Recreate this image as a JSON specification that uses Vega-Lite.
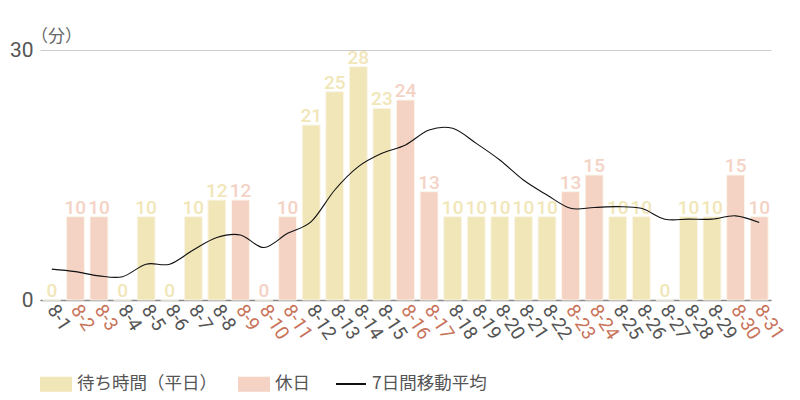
{
  "$schema": "https://vega.github.io/schema/vega-lite/v6.json",
  "width": 731,
  "height": 250,
  "autosize": "none",
  "padding": {"left": 40, "top": 50, "right": 29, "bottom": 100},
  "background": "white",
  "data": {
    "values": [
      {"d": "8-1", "v": 0, "t": "待ち時間（平日）", "ma": 3.7},
      {"d": "8-2", "v": 10, "t": "休日", "ma": 3.4},
      {"d": "8-3", "v": 10, "t": "休日", "ma": 2.9},
      {"d": "8-4", "v": 0, "t": "待ち時間（平日）", "ma": 2.8},
      {"d": "8-5", "v": 10, "t": "待ち時間（平日）", "ma": 4.3},
      {"d": "8-6", "v": 0, "t": "待ち時間（平日）", "ma": 4.3},
      {"d": "8-7", "v": 10, "t": "待ち時間（平日）", "ma": 6.0},
      {"d": "8-8", "v": 12, "t": "待ち時間（平日）", "ma": 7.5},
      {"d": "8-9", "v": 12, "t": "休日", "ma": 7.8},
      {"d": "8-10", "v": 0, "t": "休日", "ma": 6.3},
      {"d": "8-11", "v": 10, "t": "休日", "ma": 8.0},
      {"d": "8-12", "v": 21, "t": "待ち時間（平日）", "ma": 9.4},
      {"d": "8-13", "v": 25, "t": "待ち時間（平日）", "ma": 13.2},
      {"d": "8-14", "v": 28, "t": "待ち時間（平日）", "ma": 16.0},
      {"d": "8-15", "v": 23, "t": "待ち時間（平日）", "ma": 17.6},
      {"d": "8-16", "v": 24, "t": "休日", "ma": 18.6},
      {"d": "8-17", "v": 13, "t": "休日", "ma": 20.4},
      {"d": "8-18", "v": 10, "t": "待ち時間（平日）", "ma": 20.6},
      {"d": "8-19", "v": 10, "t": "待ち時間（平日）", "ma": 18.8},
      {"d": "8-20", "v": 10, "t": "待ち時間（平日）", "ma": 16.8},
      {"d": "8-21", "v": 10, "t": "待ち時間（平日）", "ma": 14.4},
      {"d": "8-22", "v": 10, "t": "待ち時間（平日）", "ma": 12.6},
      {"d": "8-23", "v": 13, "t": "休日", "ma": 11.0},
      {"d": "8-24", "v": 15, "t": "休日", "ma": 11.1},
      {"d": "8-25", "v": 10, "t": "待ち時間（平日）", "ma": 11.2},
      {"d": "8-26", "v": 10, "t": "待ち時間（平日）", "ma": 11.0},
      {"d": "8-27", "v": 0, "t": "待ち時間（平日）", "ma": 9.7},
      {"d": "8-28", "v": 10, "t": "待ち時間（平日）", "ma": 9.7},
      {"d": "8-29", "v": 10, "t": "待ち時間（平日）", "ma": 9.7},
      {"d": "8-30", "v": 15, "t": "休日", "ma": 10.1},
      {"d": "8-31", "v": 10, "t": "休日", "ma": 9.3}
    ]
  },
  "encoding": {
    "x": {
      "field": "d",
      "type": "ordinal",
      "sort": null,
      "scale": {"paddingInner": 0.24, "paddingOuter": 0.12},
      "axis": {
        "title": null,
        "labelAngle": 57,
        "labelAlign": "left",
        "labelBaseline": "middle",
        "labelFont": "Roboto",
        "labelFontSize": 19,
        "labelPadding": 6,
        "labelOverlap": false,
        "labelColor": {
          "condition": {
            "test": "indexof(['8-2','8-3','8-9','8-10','8-11','8-16','8-17','8-23','8-24','8-30','8-31'], datum.value) >= 0",
            "value": "#c8735a"
          },
          "value": "#555555"
        },
        "ticks": false,
        "domainColor": "#888888",
        "domainWidth": 1.5
      }
    }
  },
  "layer": [
    {
      "mark": {"type": "bar", "stroke": "#fbf6ea", "strokeWidth": 1},
      "encoding": {
        "y": {
          "field": "v",
          "type": "quantitative",
          "scale": {"domain": [0, 30]},
          "axis": {
            "values": [0, 30],
            "title": "（分）",
            "titleAngle": 0,
            "titleX": 16,
            "titleY": -9,
            "titleAlign": "center",
            "titleBaseline": "alphabetic",
            "titleFont": "Noto Sans CJK JP",
            "titleFontSize": 17,
            "titleFontWeight": "normal",
            "titleColor": "#666666",
            "labelFont": "Roboto",
            "labelFontSize": 21,
            "labelColor": "#555555",
            "labelPadding": 7,
            "ticks": false,
            "domain": false,
            "gridColor": "#cccccc",
            "gridWidth": 1
          }
        },
        "fill": {
          "field": "t",
          "type": "nominal",
          "scale": {
            "domain": ["待ち時間（平日）", "休日"],
            "range": ["#f1e6b8", "#f4d2c4"]
          },
          "legend": {
            "title": null,
            "orient": "none",
            "direction": "horizontal",
            "legendX": 0,
            "legendY": 318,
            "symbolType": "M-1,-0.47H1V0.47H-1Z",
            "symbolSize": 1024,
            "symbolStrokeWidth": 0,
            "labelFont": "Noto Sans CJK JP",
            "labelFontSize": 17.5,
            "labelColor": "#555555",
            "labelOffset": 5,
            "columnPadding": 21
          }
        }
      }
    },
    {
      "mark": {
        "type": "text",
        "baseline": "bottom",
        "dy": 1,
        "font": "Roboto",
        "fontWeight": 500,
        "fontSize": 19
      },
      "encoding": {
        "y": {"field": "v", "type": "quantitative"},
        "text": {"field": "v", "type": "quantitative"},
        "color": {
          "field": "t",
          "type": "nominal",
          "scale": {
            "domain": ["待ち時間（平日）", "休日"],
            "range": ["#f1e6b8", "#f4d2c4"]
          },
          "legend": null
        }
      }
    },
    {
      "mark": {"type": "line", "interpolate": "cardinal", "strokeWidth": 1.1},
      "encoding": {
        "y": {"field": "ma", "type": "quantitative"},
        "stroke": {
          "datum": "7日間移動平均",
          "type": "nominal",
          "scale": {"range": ["#111111"]},
          "legend": {
            "title": null,
            "orient": "none",
            "legendX": 295,
            "legendY": 318,
            "symbolType": "stroke",
            "symbolSize": 900,
            "symbolStrokeWidth": 2,
            "labelFont": "Noto Sans CJK JP",
            "labelFontSize": 17.5,
            "labelColor": "#555555",
            "labelOffset": 5
          }
        }
      }
    }
  ],
  "config": {
    "view": {"stroke": null},
    "axis": {"labelFontWeight": "normal"}
  }
}
